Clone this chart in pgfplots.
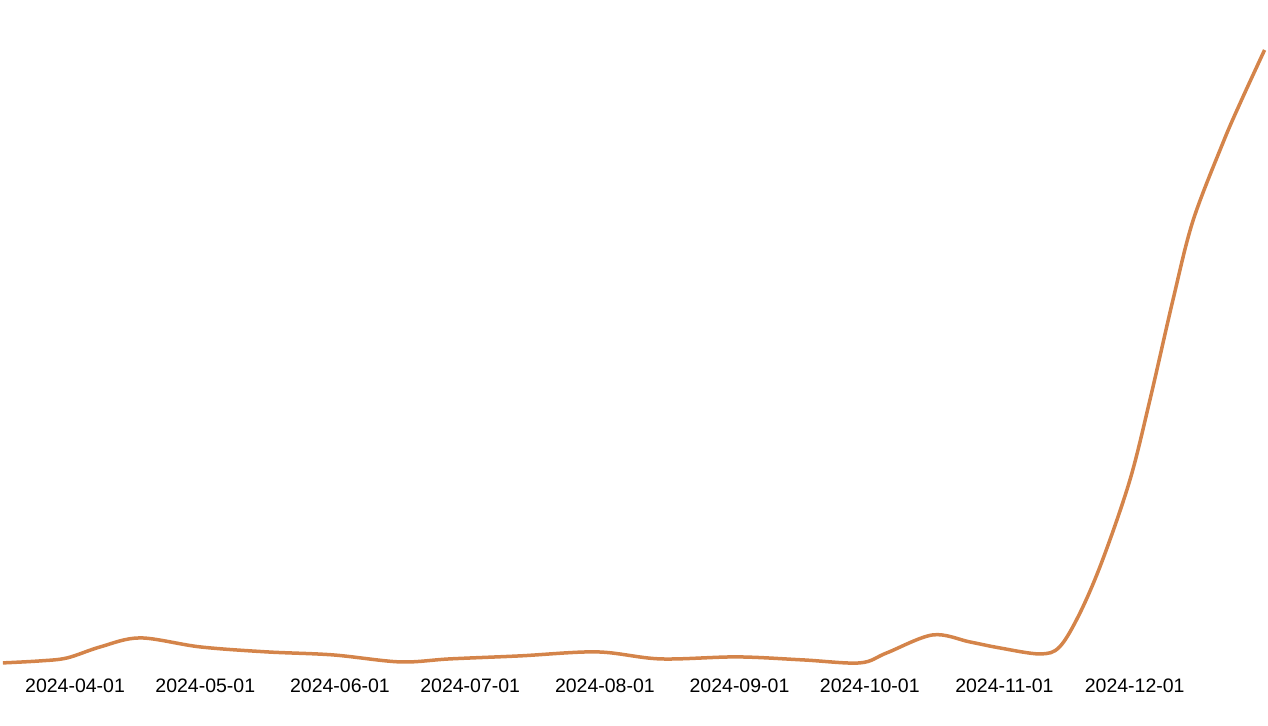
\documentclass[border=0pt]{standalone}
\usepackage{pgfplots}
\pgfplotsset{compat=1.18}
\usepackage{fontspec}
\setmainfont{Liberation Sans}
\definecolor{lineorange}{RGB}{212,132,74}
\begin{document}
\begin{tikzpicture}
\begin{axis}[
  scale only axis,
  width=1264bp, height=613bp,
  xmin=-17, xmax=274,
  ymin=0, ymax=613,
  clip=false,
  axis line style={draw=none},
  tick style={draw=none},
  ytick=\empty,
  xtick={0,30,61,91,122,153,183,214,244},
  xticklabels={2024-04-01,2024-05-01,2024-06-01,2024-07-01,2024-08-01,2024-09-01,2024-10-01,2024-11-01,2024-12-01},
  xticklabel style={anchor=base, inner sep=0pt, yshift=-30bp, font=\fontsize{19.5bp}{22bp}\selectfont},
]
\addplot[lineorange, line width=3.5bp, smooth, tension=0.55] coordinates {
(-16.6,0) (-8,2) (-1.8,5) (5.8,16) (15,25) (28.8,16) (44.2,11) (59.4,8)
(74.8,1) (86.3,4) (102.4,7) (120.2,11) (134.7,4) (152.4,6) (167.6,3)
(180.7,0) (186.9,10) (197.5,28) (206.0,21) (212.9,15) (222.1,9) (226.7,16)
(231.4,50) (236.6,103) (242.9,183) (247.5,263) (252.8,363)
(257.4,442) (264.3,520) (268.6,563) (273.9,613)
};
\end{axis}
\path ([xshift=-1.2bp,yshift=-63bp]current axis.south west) rectangle ([xshift=3bp,yshift=50bp]current axis.north east);
\end{tikzpicture}
\end{document}
